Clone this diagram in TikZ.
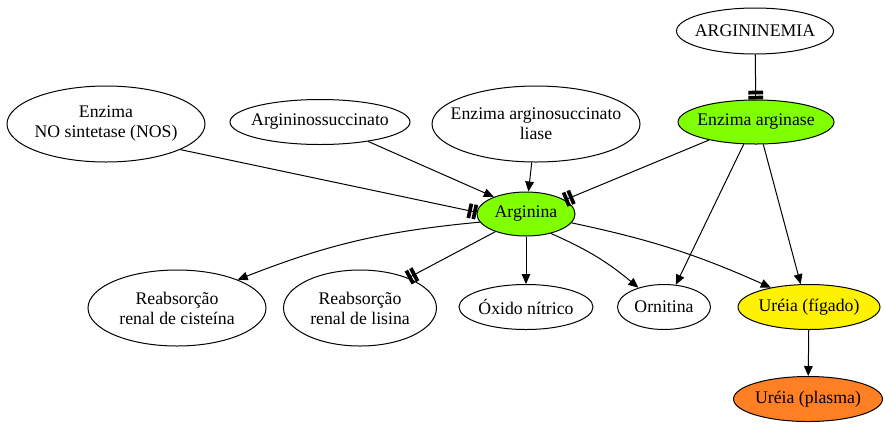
\documentclass[tikz,border=0pt]{standalone}
\usepackage{fontspec}
\setmainfont{Liberation Serif}
\usetikzlibrary{shapes.geometric,arrows.meta}
\definecolor{chart}{HTML}{7FFF00}
\definecolor{orng}{HTML}{FF7F24}
\begin{document}
\begin{tikzpicture}[x=0.75pt,y=-0.75pt,
 el/.style n args={3}{ellipse,draw,line width=0.75pt,inner sep=0pt,minimum width=#1*0.75pt,minimum height=#2*0.75pt,
   label={[align=center,inner sep=0pt,font=\fontsize{13.3}{15}\selectfont]center:{#3}}},
 conn/.style={line width=0.75pt},
 arr/.style={conn,-{Triangle[length=7.5pt,width=6.5pt]}},
 tt/.style={conn,-{Bar[width=11pt,line width=2.8pt,sep=1pt]Bar[width=11pt,line width=2.8pt]}},
]
\useasboundingbox (0,0) rectangle (885,426);
\node[el={157}{46}{ARGININEMIA}] (amia) at (755,31) {};
\node[el={156}{44}{Enzima arginase},fill=chart] (ase) at (756,122) {};
\node[el={198}{76}{Enzima\\NO sintetase (NOS)}] (nos) at (106,124) {};
\node[el={180}{45}{Argininossuccinato}] (asuc) at (320,122) {};
\node[el={208}{76}{Enzima arginosuccinato\\liase}] (liase) at (536,124) {};
\node[el={98}{44}{Arginina},fill=chart] (arg) at (526,214) {};
\node[el={178}{76}{Reabsorção\\renal de cisteína}] (cis) at (177,308) {};
\node[el={153}{76}{Reabsorção\\renal de lisina}] (lis) at (360,308) {};
\node[el={134}{45}{Óxido nítrico}] (oxi) at (526,307) {};
\node[el={93}{45}{Ornitina}] (orn) at (664,307) {};
\node[el={142}{45}{Uréia (fígado)},fill=yellow] (fig) at (809,307) {};
\node[el={149}{45}{Uréia (plasma)},fill=orng] (pla) at (808,399) {};

\draw[tt] (amia) -- (ase);
\draw[tt] (nos.-19) -- (arg.178);
\draw[arr] (asuc.-22) -- (arg.152);
\draw[arr] (liase) -- (arg);
\draw[tt] (ase.201) -- (arg.20);
\draw[arr] (ase.241) -- (orn.62);
\draw[arr] (ase.-72) -- (fig.110);
\draw[arr] (arg.190) to[bend right=8] (cis.25);
\draw[tt] (arg.210) -- (lis.32);
\draw[arr] (arg) -- (oxi);
\draw[arr] (arg.-38) to[bend left=8] (orn.143);
\draw[arr] (arg.-11) to[bend left=6] (fig.153);
\draw[arr] (fig) -- (pla);
\end{tikzpicture}
\end{document}
